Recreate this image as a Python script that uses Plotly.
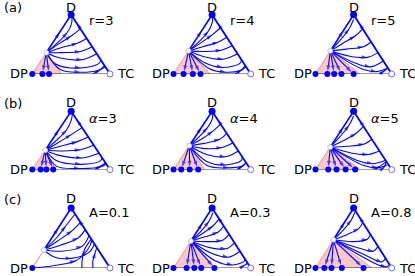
import plotly.graph_objects as go

# ---------------- data (ternary shares: [D share, TC share]) ----------------
PARAM_LABELS = ["r=3", "r=4", "r=5",
                "<i>α</i>=3", "<i>α</i>=4", "<i>α</i>=5",
                "A=0.1", "A=0.3", "A=0.8"]
ROW_TAGS = ["(a)", "(b)", "(c)"]
VERTEX_NAMES = ["D", "DP", "TC"]

# D share of the unstable point on the D-DP edge
SADDLE_D = [0.36, 0.39, 0.39, 0.333, 0.41, 0.386, 0.30, 0.45, 0.47]
# TC share where the shaded basin meets the DP-TC edge
PINK_END_TC = [0.375, 0.47, 0.58, 0.30, 0.40, 0.58, 0.0, 0.545, 0.74]
# stable points on the DP-TC edge (TC share)
BASE_DOTS_TC = [
    [0, 0.13, 0.215],
    [0, 0.13, 0.25, 0.35],
    [0, 0.155, 0.245, 0.34, 0.50],
    [0, 0.106, 0.18, 0.27],
    [0, 0.10, 0.21, 0.32],
    [0, 0.167, 0.276, 0.395, 0.52],
    [0],
    [0, 0.17, 0.27, 0.36, 0.53],
    [0, 0.116, 0.21, 0.345, 0.63],
]
# D share where the arrow sits on the left (D-DP) and right (D-TC) edges
EDGE_ARROW_D = [[0.70, 0.85], [0.72, 0.85], [0.72, 0.85],
                [0.68, 0.85], [0.72, 0.85], [0.72, 0.85],
                [0.66, 0.80], [0.74, 0.85], [0.76, 0.85]]

CURVES_R3 = [
    [[0.36, 0], [0.52, 0.06], [0.70, 0.10], [0.85, 0.08], [0.96, 0.03]],
    [[0.36, 0], [0.50, 0.08], [0.64, 0.18], [0.76, 0.24]],
    [[0.36, 0], [0.44, 0.14], [0.52, 0.32], [0.60, 0.40]],
    [[0.36, 0], [0.36, 0.20], [0.38, 0.43], [0.46, 0.54]],
    [[0.36, 0], [0.27, 0.225], [0.24, 0.52], [0.34, 0.66]],
    [[0.36, 0], [0.17, 0.215], [0.10, 0.57], [0.18, 0.77], [0.24, 0.76]],
    [[0.36, 0], [0.07, 0.33], [0.03, 0.60], [0.06, 0.82], [0.12, 0.88]],
    [[0, 0.78], [0.08, 0.84], [0.14, 0.86]],
]
CURVES_R4 = [
    [[0.39, 0], [0.55, 0.06], [0.72, 0.09], [0.86, 0.07], [0.96, 0.03]],
    [[0.39, 0], [0.52, 0.09], [0.66, 0.17], [0.78, 0.22]],
    [[0.39, 0], [0.46, 0.15], [0.54, 0.31], [0.62, 0.38]],
    [[0.39, 0], [0.38, 0.21], [0.40, 0.42], [0.48, 0.52]],
    [[0.39, 0], [0.29, 0.25], [0.25, 0.52], [0.34, 0.66]],
    [[0.39, 0], [0.19, 0.31], [0.11, 0.58], [0.18, 0.77], [0.24, 0.76]],
    [[0.39, 0], [0.09, 0.42], [0.03, 0.66], [0.06, 0.84], [0.12, 0.88]],
    [[0, 0.80], [0.08, 0.85], [0.14, 0.86]],
]
CURVES_R5 = [
    [[0.39, 0], [0.58, 0.04], [0.76, 0.06], [0.92, 0.04]],
    [[0.39, 0], [0.52, 0.10], [0.64, 0.20], [0.76, 0.24]],
    [[0.39, 0], [0.42, 0.20], [0.46, 0.40], [0.54, 0.46]],
    [[0.39, 0], [0.30, 0.30], [0.28, 0.54], [0.36, 0.64]],
    [[0.39, 0], [0.18, 0.44], [0.12, 0.66], [0.22, 0.78]],
    [[0.39, 0], [0.08, 0.58], [0.04, 0.78], [0.10, 0.90]],
    [[0, 0.84], [0.06, 0.88], [0.10, 0.90]],
]
CURVES_A3 = [
    [[0.333, 0], [0.50, 0.06], [0.68, 0.10], [0.84, 0.08], [0.95, 0.04]],
    [[0.333, 0], [0.46, 0.10], [0.60, 0.20], [0.72, 0.28]],
    [[0.333, 0], [0.40, 0.16], [0.48, 0.34], [0.56, 0.44]],
    [[0.333, 0], [0.32, 0.22], [0.34, 0.45], [0.42, 0.58]],
    [[0.333, 0], [0.24, 0.24], [0.20, 0.54], [0.28, 0.72]],
    [[0.333, 0], [0.15, 0.24], [0.09, 0.58], [0.15, 0.80], [0.20, 0.80]],
    [[0.333, 0], [0.06, 0.28], [0.02, 0.60], [0.05, 0.86], [0.10, 0.90]],
    [[0, 0.80], [0.07, 0.86], [0.12, 0.88]],
]
CURVES_A4 = [
    [[0.41, 0], [0.56, 0.05], [0.72, 0.08], [0.86, 0.07], [0.96, 0.03]],
    [[0.41, 0], [0.52, 0.10], [0.66, 0.18], [0.78, 0.22]],
    [[0.41, 0], [0.45, 0.17], [0.52, 0.34], [0.62, 0.38]],
    [[0.41, 0], [0.36, 0.24], [0.38, 0.44], [0.46, 0.54]],
    [[0.41, 0], [0.26, 0.30], [0.22, 0.56], [0.32, 0.68]],
    [[0.41, 0], [0.14, 0.36], [0.08, 0.64], [0.16, 0.80], [0.22, 0.78]],
    [[0.41, 0], [0.07, 0.40], [0.03, 0.70], [0.06, 0.86], [0.12, 0.88]],
    [[0, 0.82], [0.07, 0.87], [0.12, 0.88]],
]
CURVES_A5 = [
    [[0.386, 0], [0.58, 0.04], [0.76, 0.06], [0.92, 0.04]],
    [[0.386, 0], [0.50, 0.12], [0.62, 0.22], [0.74, 0.26]],
    [[0.386, 0], [0.40, 0.22], [0.44, 0.42], [0.52, 0.48]],
    [[0.386, 0], [0.28, 0.34], [0.26, 0.56], [0.32, 0.68]],
    [[0.386, 0], [0.16, 0.46], [0.10, 0.70], [0.16, 0.84]],
    [[0.386, 0], [0.07, 0.60], [0.03, 0.80], [0.08, 0.90]],
    [[0, 0.76], [0.06, 0.82], [0.14, 0.86]],
    [[0, 0.86], [0.05, 0.88], [0.14, 0.86]],
]
CURVES_A01 = [
    [[0.30, 0], [0.50, 0.06], [0.70, 0.08], [0.90, 0.10]],
    [[0.30, 0], [0.45, 0.10], [0.62, 0.20], [0.76, 0.24]],
    [[0.30, 0], [0.38, 0.17], [0.50, 0.34], [0.64, 0.36]],
    [[0.30, 0], [0.28, 0.24], [0.36, 0.46], [0.54, 0.46]],
    [[0.30, 0], [0.18, 0.20], [0.16, 0.42], [0.26, 0.60], [0.40, 0.60]],
    [[0.0, 0.02], [0.05, 0.30], [0.12, 0.50], [0.30, 0.56], [0.46, 0.54]],
    [[0, 0.64], [0.12, 0.58], [0.30, 0.52], [0.48, 0.52]],
    [[0, 0.78], [0.12, 0.72], [0.26, 0.68], [0.34, 0.66]],
]
CURVES_A03 = [
    [[0.45, 0], [0.62, 0.05], [0.78, 0.07], [0.92, 0.05]],
    [[0.45, 0], [0.58, 0.09], [0.70, 0.16], [0.82, 0.18]],
    [[0.45, 0], [0.52, 0.15], [0.60, 0.28], [0.70, 0.30]],
    [[0.45, 0], [0.44, 0.22], [0.46, 0.40], [0.56, 0.44]],
    [[0.45, 0], [0.34, 0.30], [0.32, 0.52], [0.42, 0.58]],
    [[0.45, 0], [0.24, 0.38], [0.18, 0.62], [0.28, 0.72]],
    [[0.45, 0], [0.12, 0.48], [0.05, 0.74], [0.12, 0.86], [0.16, 0.84]],
    [[0, 0.86], [0.05, 0.90], [0.08, 0.92]],
]
CURVES_A08 = [
    [[0.47, 0], [0.64, 0.05], [0.80, 0.07], [0.93, 0.05]],
    [[0.47, 0], [0.56, 0.14], [0.66, 0.24], [0.76, 0.24]],
    [[0.47, 0], [0.44, 0.28], [0.48, 0.44], [0.56, 0.44]],
    [[0.47, 0], [0.32, 0.44], [0.28, 0.62], [0.36, 0.64]],
    [[0.47, 0], [0.18, 0.62], [0.10, 0.82], [0.16, 0.84]],
    [[0.47, 0], [0.05, 0.80], [0.02, 0.92], [0.05, 0.95]],
]
ALL_CURVES = [CURVES_R3, CURVES_R4, CURVES_R5,
              CURVES_A3, CURVES_A4, CURVES_A5,
              CURVES_A01, CURVES_A03, CURVES_A08]

# ---------------- layout geometry (pixels) ----------------
FIG_W, FIG_H = 415, 276
COL_DP_PX = [32.3, 173.5, 315.5]
COL_TC_PX = [110.0, 250.7, 391.7]
ROW_APEX_PX = [14.7, 111.3, 208.0]
ROW_BASE_PX = [74.0, 169.6, 268.0]
ROW_TAG_Y_PX = [7.5, 103.5, 199.0]
PARAM_LABEL_Y = [0.91, 0.88, 0.92]
D_LABEL_SHIFT = [7.2, 8.6, 9.8]

BLUE = "#0000ff"
FONT = "DejaVu Sans"


def to_xy(pts):
    xs = [tc + d / 2.0 for d, tc in pts]
    ys = [d for d, tc in pts]
    return xs, ys


fig = go.Figure()
axes = {}
annotations = []


def add_flow(pts, xa, ya, width, arrow_idx, shape="spline", standoff=0):
    xs, ys = to_xy(pts)
    sizes = [6 if k == arrow_idx else 0 for k in range(len(pts))]
    fig.add_trace(go.Scatter(
        x=xs, y=ys, xaxis=xa, yaxis=ya, mode="lines+markers",
        line=dict(color=BLUE, width=width, shape=shape, smoothing=1.0),
        marker=dict(symbol="arrow", size=sizes, color=BLUE, angleref="previous",
                    standoff=standoff, line=dict(width=0)),
        hoverinfo="skip", cliponaxis=False))


for i in range(9):
    r, c = divmod(i, 3)
    n = "" if i == 0 else str(i + 1)
    xa, ya = "x" + n, "y" + n
    axes["xaxis" + n] = dict(domain=[COL_DP_PX[c] / FIG_W, COL_TC_PX[c] / FIG_W],
                             range=[0, 1], visible=False, fixedrange=True, anchor=ya)
    axes["yaxis" + n] = dict(domain=[1 - ROW_BASE_PX[r] / FIG_H, 1 - ROW_APEX_PX[r] / FIG_H],
                             range=[0, 1], visible=False, fixedrange=True, anchor=xa)
    w = SADDLE_D[i]
    e = PINK_END_TC[i]

    # shaded basin
    px, py = to_xy([[0, 0], [w, 0], [0, e], [0, 0]])
    fig.add_trace(go.Scatter(x=px, y=py, xaxis=xa, yaxis=ya, mode="lines", fill="toself",
                             fillcolor="#f7c9c9", line=dict(color="#f0a8a8", width=1.2),
                             hoverinfo="skip", cliponaxis=False))
    # DP-TC edge
    bx, by = to_xy([[0, 0], [0, 1]])
    fig.add_trace(go.Scatter(x=bx, y=by, xaxis=xa, yaxis=ya, mode="lines",
                             line=dict(color="#333333", width=1), hoverinfo="skip",
                             cliponaxis=False))
    # invariant edges
    la, ra = EDGE_ARROW_D[i]
    add_flow([[w, 0], [la, 0], [1, 0]], xa, ya, 1.6, 1, shape="linear")
    add_flow([[0, 1], [ra, 1 - ra], [1, 0]], xa, ya, 1.8, 1, shape="linear")
    # interior trajectories
    for pts in ALL_CURVES[i]:
        add_flow(pts, xa, ya, 1.1, len(pts) // 2)
    # trajectories into the basin's stable points
    for t in BASE_DOTS_TC[i]:
        if t == 0:
            continue
        add_flow([[w, 0], [0, t]], xa, ya, 1.1, 1, shape="linear", standoff=3)

    # fixed points
    dx, dy = to_xy([[0, t] for t in BASE_DOTS_TC[i]])
    fig.add_trace(go.Scatter(x=dx, y=dy, xaxis=xa, yaxis=ya, mode="markers",
                             marker=dict(size=6, color=BLUE), hoverinfo="skip",
                             cliponaxis=False))
    ax_, ay_ = to_xy([[1, 0]])
    fig.add_trace(go.Scatter(x=ax_, y=ay_, xaxis=xa, yaxis=ya, mode="markers",
                             marker=dict(size=7, color=BLUE), hoverinfo="skip",
                             cliponaxis=False))
    ox, oy = to_xy([[0, 1]])
    fig.add_trace(go.Scatter(x=ox, y=oy, xaxis=xa, yaxis=ya, mode="markers",
                             marker=dict(size=6, color="white", line=dict(color="#6f6fff", width=1)),
                             hoverinfo="skip", cliponaxis=False))
    sx, sy = to_xy([[w, 0]])
    fig.add_trace(go.Scatter(x=sx, y=sy, xaxis=xa, yaxis=ya, mode="markers",
                             marker=dict(size=5, color="white", line=dict(color="#b0b0d0", width=0.8)),
                             hoverinfo="skip", cliponaxis=False))

    # vertex labels
    f = dict(family=FONT, size=13, color="black")
    annotations.append(dict(x=0.5, y=1, xref=xa, yref=ya, text=VERTEX_NAMES[0], showarrow=False,
                            font=f, xanchor="center", yanchor="middle", yshift=D_LABEL_SHIFT[r]))
    annotations.append(dict(x=0, y=0, xref=xa, yref=ya, text=VERTEX_NAMES[1], showarrow=False,
                            font=f, xanchor="right", yanchor="middle", xshift=-2))
    annotations.append(dict(x=1, y=0, xref=xa, yref=ya, text=VERTEX_NAMES[2], showarrow=False,
                            font=f, xanchor="left", yanchor="middle", xshift=5))
    annotations.append(dict(x=0.70, y=PARAM_LABEL_Y[r], xref=xa, yref=ya, text=PARAM_LABELS[i],
                            showarrow=False, font=f, xanchor="left", yanchor="middle"))

for r in range(3):
    annotations.append(dict(x=2 / FIG_W, y=1 - ROW_TAG_Y_PX[r] / FIG_H, xref="paper", yref="paper",
                            text=ROW_TAGS[r], showarrow=False, xanchor="left", yanchor="middle",
                            font=dict(family=FONT, size=13, color="black")))

fig.update_layout(width=FIG_W, height=FIG_H, margin=dict(l=0, r=0, t=0, b=0),
                  paper_bgcolor="white", plot_bgcolor="white", showlegend=False,
                  annotations=annotations, **axes)
fig.write_html("out.html", config={"displayModeBar": False},
               post_script="document.body.style.margin='0px';")
